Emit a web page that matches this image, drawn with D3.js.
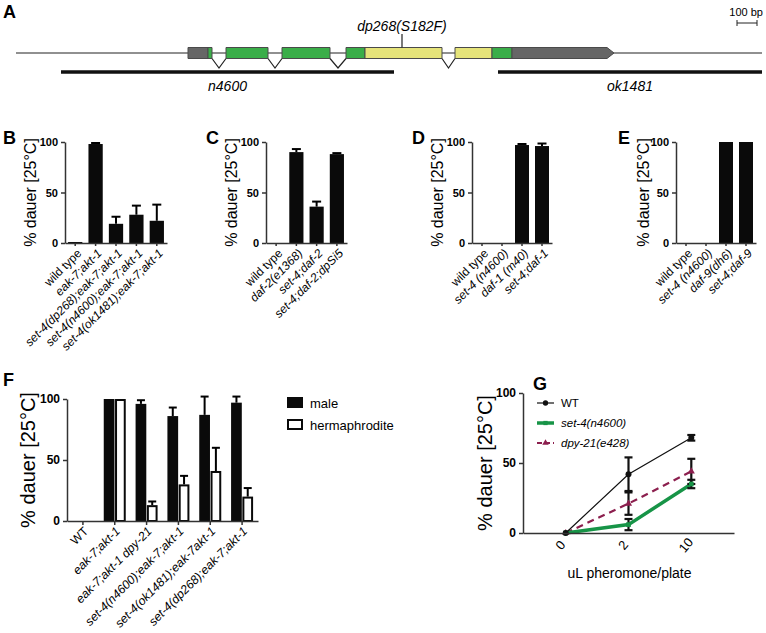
<!DOCTYPE html>
<html>
<head>
<meta charset="utf-8">
<script src="https://cdn.jsdelivr.net/npm/d3@7"></script>
<style>
  body { margin: 0; background: #fff; }
  text { font-family: "Liberation Sans", Arial, sans-serif; }
</style>
</head>
<body>
<svg id="fig" width="766" height="633"></svg>
<script>
// ---- panel A: gene model (positions in bp) ----
const geneLength = 3730;
const exons = [
  { start: 860, end: 960, kind: "utr" },
  { start: 960, end: 980, kind: "cds" },
  { start: 1050, end: 1260, kind: "cds" },
  { start: 1330, end: 1570, kind: "cds" },
  { start: 1650, end: 1745, kind: "cds" },
  { start: 1745, end: 2130, kind: "set" },
  { start: 2195, end: 2380, kind: "set" },
  { start: 2380, end: 2480, kind: "cds" },
  { start: 2480, end: 2990, kind: "utr3" }
];
const introns = [[980, 1050], [1260, 1330], [1570, 1650], [2130, 2195]];
const deletions = [
  { name: "n4600", start: 225, end: 1890 },
  { name: "ok1481", start: 2410, end: 3730 }
];
const mutation = { name: "dp268(S182F)", pos: 1930 };

// ---- panels B-E ----
const bCats = ["wild type", "eak-7;akt-1", "set-4(dp268);eak-7;akt-1", "set-4(n4600);eak-7;akt-1", "set-4(ok1481);eak-7;akt-1"];
const bMean = [1, 98, 19, 28, 22];
const bErr = [0, 1, 7, 9, 16];

const cCats = ["wild type", "daf-2(e1368)", "set-4;daf-2", "set-4;daf-2;dpSi5"];
const cMean = [0, 90, 36, 88];
const cErr = [0, 3, 5, 1];

const dCats = ["wild type", "set-4 (n4600)", "daf-1 (m40)", "set-4;daf-1"];
const dMean = [0, 0, 97, 96];
const dErr = [0, 0, 1, 2.5];

const eCats = ["wild type", "set-4 (n4600)", "daf-9(dh6)", "set-4;daf-9"];
const eMean = [0, 0, 100, 100];
const eErr = [0, 0, 0, 0];

// ---- panel F ----
const fCats = ["WT", "eak-7;akt-1", "eak-7;akt-1 dpy-21", "set-4(n4600);eak-7;akt-1", "set-4(ok1481);eak-7akt-1", "set-4(dp268);eak-7;akt-1"];
const fMale = [0, 100, 96, 86, 87, 97];
const fMaleErr = [0, 0, 3, 7, 15, 5];
const fHerm = [0, 100, 13, 30, 41, 20];
const fHermErr = [0, 0, 3, 7, 19, 7];

// ---- panel G ----
const gDoses = ["0", "2", "10"];
const gWT = [0, 42, 68];
const gWTErr = [0, 12, 2];
const gSet4 = [0, 6, 35];
const gSet4Err = [0, 4, 3];
const gDpy = [0, 21, 44];
const gDpyErr = [0, 8, 9];

const yTicks = [0, 50, 100];
const yTitle = "% dauer [25°C]";
const axisColor = "#333";

const svg = d3.select("#fig");

function letter(s, x, y) {
  svg.append("text").attr("x", x).attr("y", y)
    .attr("font-size", 18).attr("font-weight", "bold").text(s);
}

function isItalic(name) {
  return !(name === "wild type" || name === "WT");
}

function styleAxis(g, fontSize) {
  g.select(".domain").attr("stroke", axisColor).attr("stroke-width", 1.5);
  g.selectAll(".tick line").attr("stroke", axisColor).attr("stroke-width", 1.5);
  g.selectAll(".tick text").attr("font-size", fontSize).attr("font-weight", "bold")
    .attr("font-family", "Liberation Sans, Arial, sans-serif").attr("fill", "#000");
}

function yAxisAndTitle(y, x0, titleX, titleSize, tickSize) {
  const g = svg.append("g").attr("transform", `translate(${x0},0)`)
    .call(d3.axisLeft(y).tickValues(yTicks).tickSize(4).tickSizeOuter(0));
  styleAxis(g, tickSize);
  const [y1, y0] = y.range();
  svg.append("text")
    .attr("transform", `translate(${titleX},${(y0 + y1) / 2}) rotate(-90)`)
    .attr("text-anchor", "middle").attr("dominant-baseline", "middle")
    .attr("font-size", titleSize).text(yTitle);
}

function catLabels(cx, cats, axisY, fontSize) {
  svg.append("g").selectAll("text").data(cats).join("text")
    .attr("transform", d => `translate(${cx(d) + 4},${axisY + 8}) rotate(-45)`)
    .attr("text-anchor", "end").attr("dy", "0.35em")
    .attr("font-size", fontSize)
    .attr("font-style", d => isItalic(d) ? "italic" : "normal")
    .text(d => d);
}

function errorBars(data, cx, y, capW, lw) {
  const g = svg.append("g").attr("stroke", "#000").attr("stroke-width", lw);
  data.filter(d => d.err > 0).forEach(d => {
    g.append("line").attr("x1", cx(d)).attr("x2", cx(d))
      .attr("y1", y(d.mean)).attr("y2", y(d.mean + d.err));
    g.append("line").attr("x1", cx(d) - capW / 2).attr("x2", cx(d) + capW / 2)
      .attr("y1", y(d.mean + d.err)).attr("y2", y(d.mean + d.err));
  });
}

function barPanel(cfg) {
  const { cats, mean, err, x0, x1, titleX, name, nameX } = cfg;
  const top = 142, bottom = 243;
  const x = d3.scaleBand().domain(cats).range([x0, x1]).paddingInner(0.3).paddingOuter(0.15);
  const y = d3.scaleLinear().domain([0, 100]).range([bottom, top]);
  const data = cats.map((c, i) => ({ cat: c, mean: mean[i], err: err[i] }));
  const cx = c => x(c) + x.bandwidth() / 2;

  svg.append("g").selectAll("rect").data(data).join("rect")
    .attr("x", d => x(d.cat)).attr("width", x.bandwidth())
    .attr("y", d => y(d.mean)).attr("height", d => y(0) - y(d.mean))
    .attr("fill", "#0a0a0a");
  errorBars(data, d => cx(d.cat), y, 9, 2);

  const gx = svg.append("g").attr("transform", `translate(0,${bottom})`)
    .call(d3.axisBottom(x).tickSize(3).tickSizeOuter(0).tickFormat(""));
  styleAxis(gx, 10);
  yAxisAndTitle(y, x0, titleX, 16, 11);
  catLabels(cx, cats, bottom, 12);
  letter(name, nameX, 144);
}

// ---------- Panel A ----------
(function () {
  const gx = d3.scaleLinear().domain([0, geneLength]).range([16, 762]);
  const lineY = 53, h = 11;
  const colors = { utr: "#666", utr3: "#666", cds: "#3aae49", set: "#e6e47a" };

  letter("A", 3, 18);

  svg.append("line").attr("x1", gx(0)).attr("x2", gx(geneLength))
    .attr("y1", lineY).attr("y2", lineY).attr("stroke", "#222").attr("stroke-width", 1.2);

  svg.append("g").selectAll("path").data(introns).join("path")
    .attr("d", d => `M${gx(d[0])},${lineY + h / 2}L${gx((d[0] + d[1]) / 2)},${lineY + 15}L${gx(d[1])},${lineY + h / 2}`)
    .attr("fill", "none").attr("stroke", "#222").attr("stroke-width", 1.2);

  svg.append("g").selectAll("path").data(exons).join("path")
    .attr("d", d => {
      const a = gx(d.start), b = gx(d.end), t = lineY - h / 2, u = lineY + h / 2;
      if (d.kind === "utr3") {
        const tip = b - 7;
        return `M${a},${t}L${tip},${t}L${b},${lineY}L${tip},${u}L${a},${u}Z`;
      }
      return `M${a},${t}L${b},${t}L${b},${u}L${a},${u}Z`;
    })
    .attr("fill", d => colors[d.kind]).attr("stroke", "#4a4a4a").attr("stroke-width", 1);

  // mutation marker
  svg.append("line").attr("x1", gx(mutation.pos)).attr("x2", gx(mutation.pos))
    .attr("y1", 34).attr("y2", lineY - h / 2).attr("stroke", "#222").attr("stroke-width", 1.2);
  svg.append("text").attr("x", gx(mutation.pos)).attr("y", 31).attr("text-anchor", "middle")
    .attr("font-size", 14).attr("font-style", "italic").text(mutation.name);

  // deletions
  deletions.forEach(d => {
    svg.append("line").attr("x1", gx(d.start)).attr("x2", gx(d.end))
      .attr("y1", 72).attr("y2", 72).attr("stroke", "#111").attr("stroke-width", 3.5);
    svg.append("text").attr("x", (gx(d.start) + gx(d.end)) / 2).attr("y", 91)
      .attr("text-anchor", "middle").attr("font-size", 14).attr("font-style", "italic").text(d.name);
  });

  // scale bar 100 bp
  const sb0 = gx(geneLength - 125), sb1 = gx(geneLength - 25);
  svg.append("text").attr("x", 763).attr("y", 16).attr("text-anchor", "end")
    .attr("font-size", 11).text("100 bp");
  svg.append("path").attr("d", `M${sb0},20V26M${sb0},23H${sb1}M${sb1},20V26`)
    .attr("stroke", "#222").attr("fill", "none").attr("stroke-width", 1);
})();

// ---------- Panels B-E ----------
barPanel({ cats: bCats, mean: bMean, err: bErr, x0: 65, x1: 167, titleX: 32, name: "B", nameX: 3 });
barPanel({ cats: cCats, mean: cMean, err: cErr, x0: 266, x1: 347, titleX: 233, name: "C", nameX: 206 });
barPanel({ cats: dCats, mean: dMean, err: dErr, x0: 472, x1: 552, titleX: 439, name: "D", nameX: 412 });
barPanel({ cats: eCats, mean: eMean, err: eErr, x0: 676, x1: 756, titleX: 645, name: "E", nameX: 618 });

// ---------- Panel F ----------
(function () {
  const top = 399, bottom = 521, x0 = 67, x1 = 258;
  const x = d3.scaleBand().domain(fCats).range([x0, x1]).paddingInner(0).paddingOuter(0);
  const sub = d3.scaleBand().domain(["male", "herm"]).range([-11, 11]).paddingInner(0.05);
  const y = d3.scaleLinear().domain([0, 100]).range([bottom, top]);
  const cx = c => x(c) + x.bandwidth() / 2;

  const rows = [];
  fCats.forEach((c, i) => {
    rows.push({ cat: c, s: "male", mean: fMale[i], err: fMaleErr[i] });
    rows.push({ cat: c, s: "herm", mean: fHerm[i], err: fHermErr[i] });
  });

  svg.append("g").selectAll("rect").data(rows.filter(d => d.mean > 0)).join("rect")
    .attr("x", d => cx(d.cat) + sub(d.s) + (d.s === "herm" ? 1 : 0))
    .attr("width", d => sub.bandwidth() - (d.s === "herm" ? 2 : 0))
    .attr("y", d => y(d.mean) + (d.s === "herm" ? 1 : 0))
    .attr("height", d => y(0) - y(d.mean) - (d.s === "herm" ? 1 : 0))
    .attr("fill", d => d.s === "male" ? "#0a0a0a" : "#fff")
    .attr("stroke", d => d.s === "male" ? "none" : "#0a0a0a")
    .attr("stroke-width", 2);
  errorBars(rows, d => cx(d.cat) + sub(d.s) + sub.bandwidth() / 2, y, 8, 2);

  const gx = svg.append("g").attr("transform", `translate(0,${bottom})`)
    .call(d3.axisBottom(x).tickSize(4).tickSizeOuter(0).tickFormat(""));
  styleAxis(gx, 11);
  yAxisAndTitle(y, x0, 30, 20, 12);
  catLabels(c => cx(c) - 1, fCats, bottom, 12.2);

  // legend
  const legend = [{ key: "male", fill: "#0a0a0a" }, { key: "hermaphrodite", fill: "#fff" }];
  legend.forEach((d, i) => {
    const ly = 403 + i * 22;
    svg.append("rect").attr("x", 288).attr("y", ly - 5).attr("width", 14).attr("height", 9)
      .attr("fill", d.fill).attr("stroke", "#0a0a0a").attr("stroke-width", 2);
    svg.append("text").attr("x", 310).attr("y", ly).attr("dy", "0.35em")
      .attr("font-size", 13).text(d.key);
  });
  letter("F", 3, 386);
})();

// ---------- Panel G ----------
(function () {
  const top = 393, bottom = 533, x0 = 523, x1 = 734;
  const x = d3.scalePoint().domain(gDoses).range([x0, x1]).padding(0.68);
  const y = d3.scaleLinear().domain([0, 100]).range([bottom, top]);

  const series = [
    { name: "WT", mean: gWT, err: gWTErr, color: "#111", width: 1.2, dash: null, marker: "circle", italic: false },
    { name: "set-4(n4600)", mean: gSet4, err: gSet4Err, color: "#179447", width: 3.5, dash: null, marker: "square", italic: true },
    { name: "dpy-21(e428)", mean: gDpy, err: gDpyErr, color: "#8c1f4e", width: 2.2, dash: "7,5", marker: "triangle", italic: true }
  ];
  const symbols = { circle: d3.symbolCircle, square: d3.symbolSquare, triangle: d3.symbolTriangle };
  const line = d3.line().x((d, i) => x(gDoses[i])).y(d => y(d));

  // WT drawn last so it sits on top
  const order = [series[2], series[1], series[0]];
  order.forEach(s => {
    svg.append("path").datum(s.mean).attr("d", line)
      .attr("fill", "none").attr("stroke", s.color).attr("stroke-width", s.width)
      .attr("stroke-dasharray", s.dash);
  });
  const eg = svg.append("g").attr("stroke", "#111").attr("stroke-width", 2.2);
  series.forEach(s => {
    s.mean.forEach((m, i) => {
      if (!s.err[i]) return;
      const xx = x(gDoses[i]);
      eg.append("line").attr("x1", xx).attr("x2", xx).attr("y1", y(m - s.err[i])).attr("y2", y(m + s.err[i]));
      [m - s.err[i], m + s.err[i]].forEach(v => {
        eg.append("line").attr("x1", xx - 4).attr("x2", xx + 4).attr("y1", y(v)).attr("y2", y(v));
      });
    });
  });
  order.forEach(s => {
    svg.append("g").selectAll("path").data(s.mean).join("path")
      .attr("transform", (d, i) => `translate(${x(gDoses[i])},${y(d)})`)
      .attr("d", d3.symbol().type(symbols[s.marker]).size(s.marker === "circle" ? 28 : 22))
      .attr("fill", s.color);
  });

  const gx = svg.append("g").attr("transform", `translate(0,${bottom})`)
    .call(d3.axisBottom(x).tickSize(0).tickSizeOuter(0));
  styleAxis(gx, 13);
  gx.selectAll(".tick text").attr("font-weight", "normal")
    .attr("transform", "translate(-6,12) rotate(-50)").attr("text-anchor", "middle").attr("dy", "0.35em").attr("y", 0);
  yAxisAndTitle(y, x0, 487, 20, 12);

  svg.append("text").attr("x", (x1 + x0) / 2 + 1).attr("y", 578).attr("text-anchor", "middle")
    .attr("font-size", 14).text("uL pheromone/plate");

  // legend
  series.forEach((s, i) => {
    const ly = 403 + i * 20;
    svg.append("line").attr("x1", 537).attr("x2", 554).attr("y1", ly).attr("y2", ly)
      .attr("stroke", s.color).attr("stroke-width", s.width).attr("stroke-dasharray", s.dash ? "5,3" : null);
    svg.append("path").attr("transform", `translate(545.5,${ly})`)
      .attr("d", d3.symbol().type(symbols[s.marker]).size(s.marker === "circle" ? 22 : 18))
      .attr("fill", s.color);
    svg.append("text").attr("x", 561).attr("y", ly).attr("dy", "0.35em").attr("font-size", 11.5)
      .attr("font-style", s.italic ? "italic" : "normal").text(s.name);
  });
  letter("G", 533, 390);
})();
</script>
</body>
</html>
